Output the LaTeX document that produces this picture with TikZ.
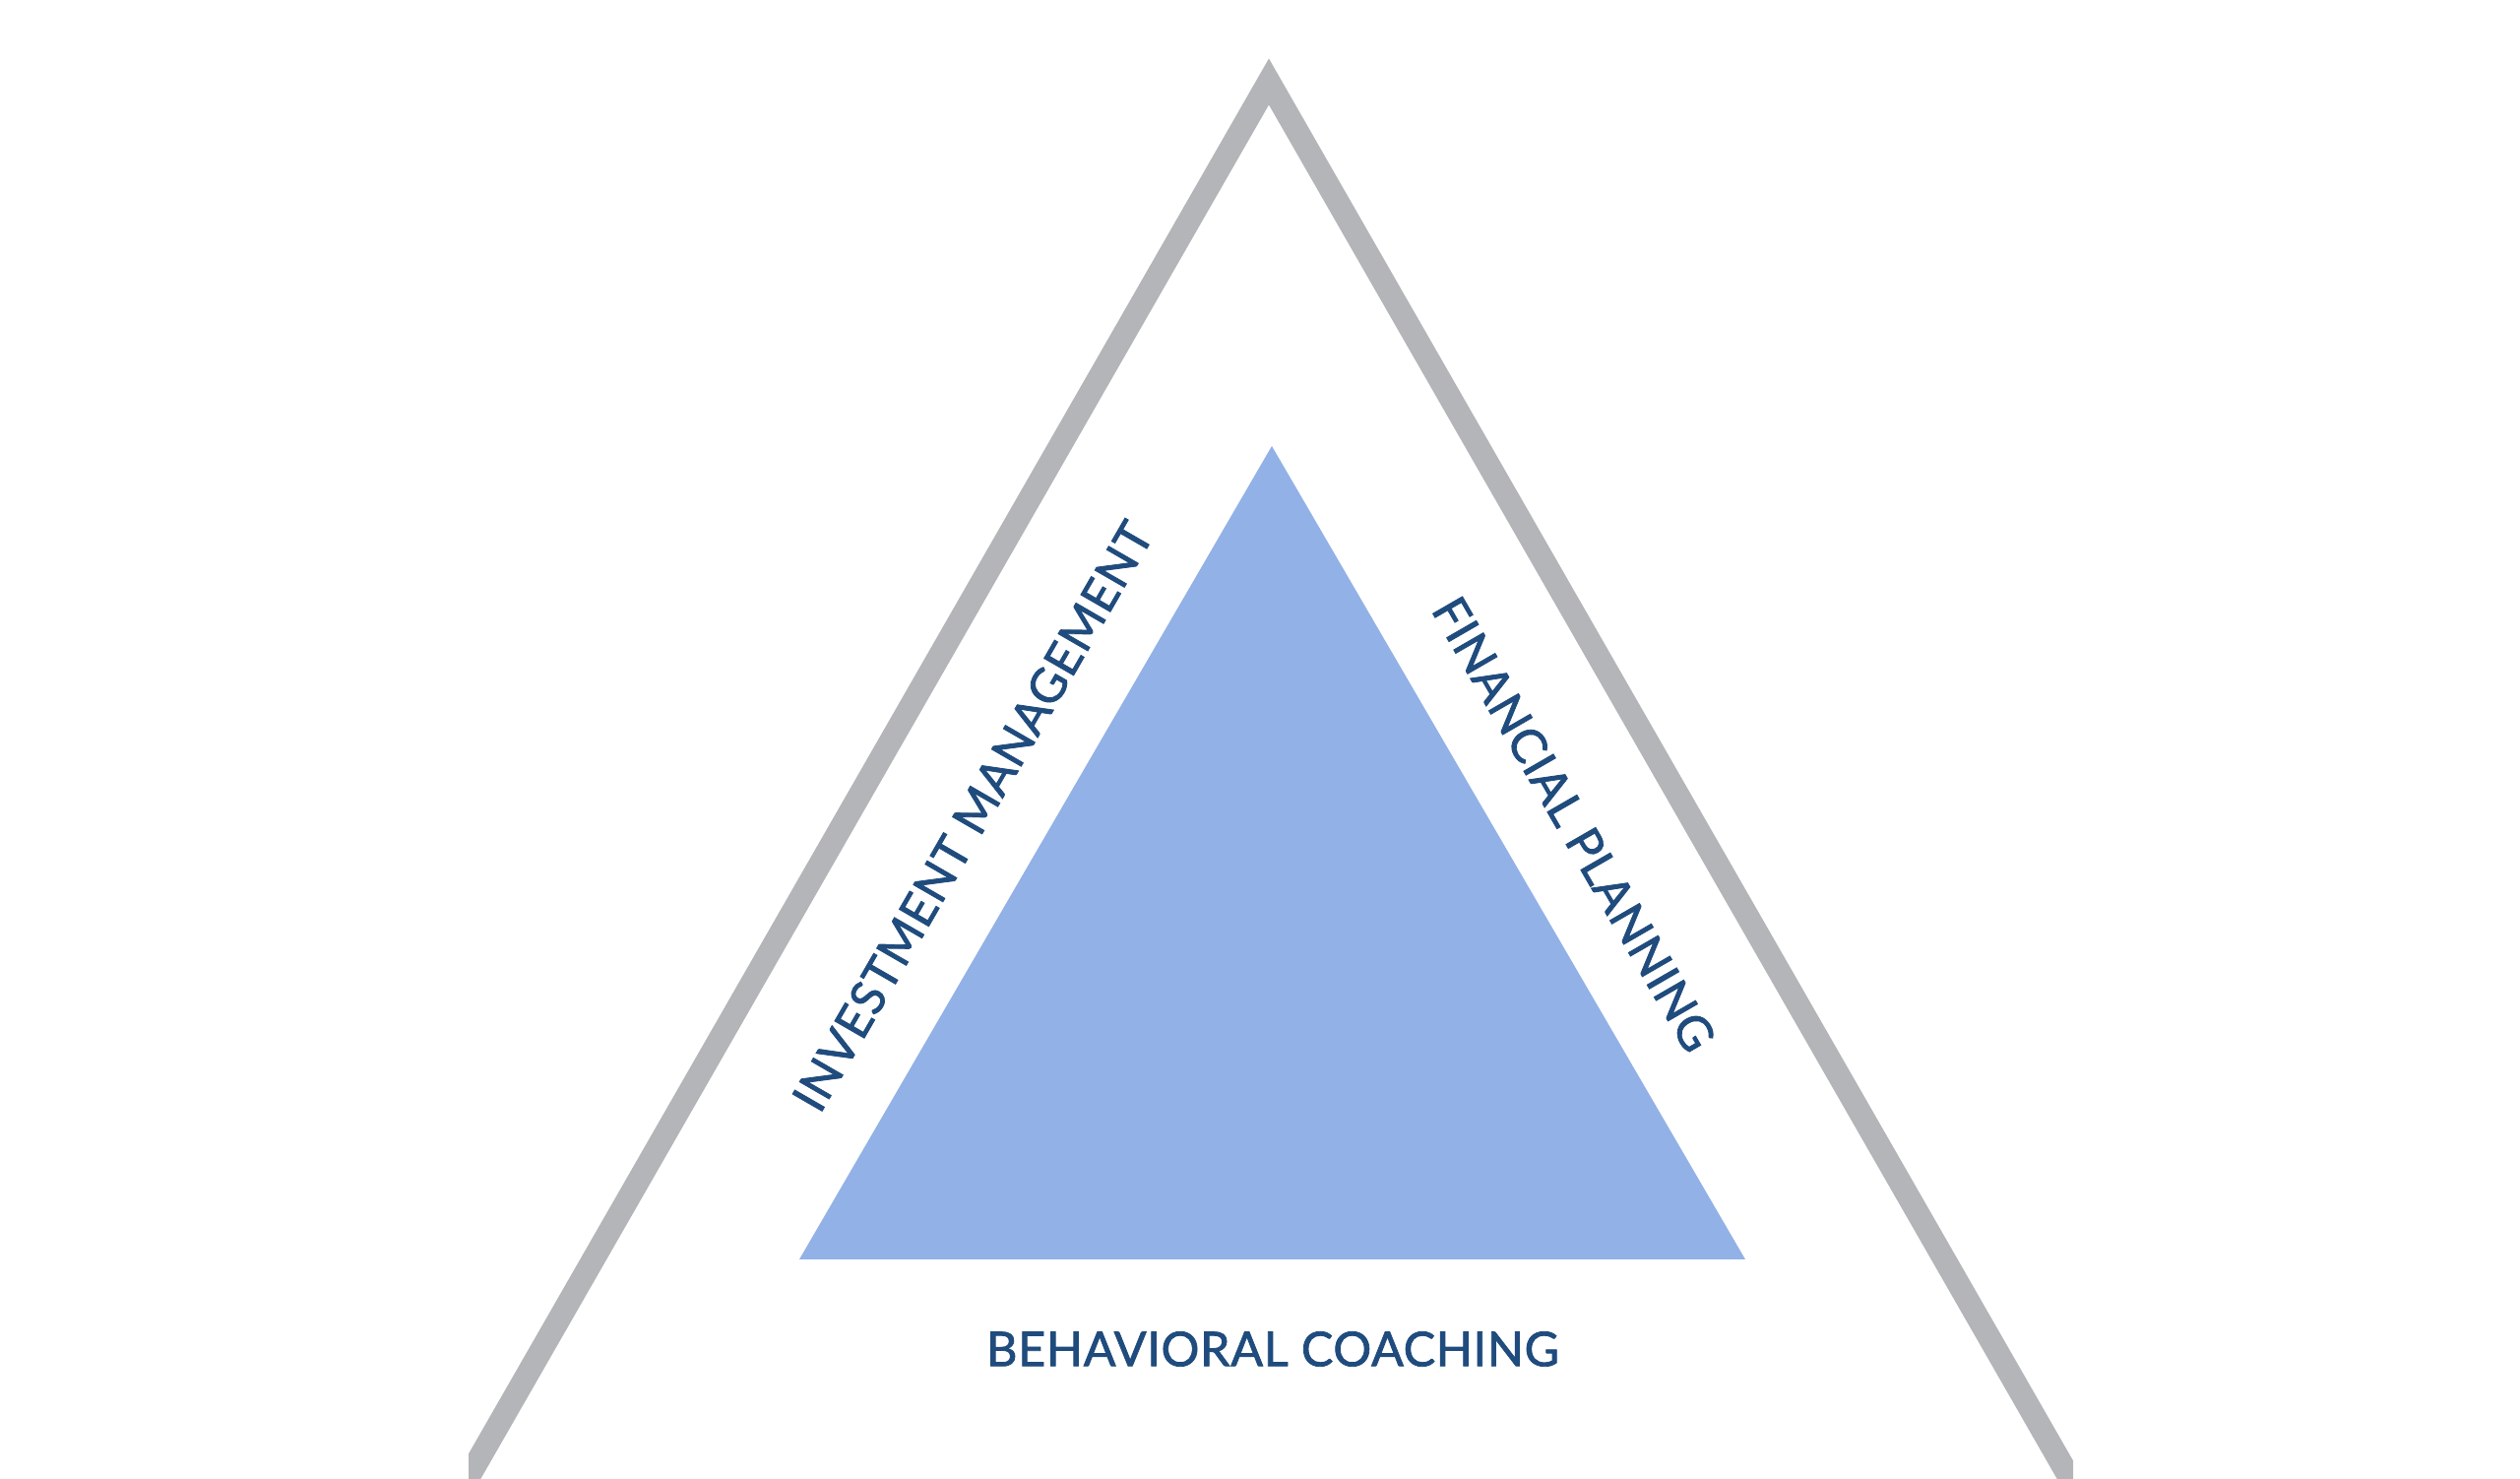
\documentclass[tikz,border=0pt]{standalone}
\usepackage{fontspec}
\newfontfamily\lblfont{Lato}[LetterSpace=1.5,FakeBold=1.6]
\definecolor{rimgray}{HTML}{B3B5B8}
\definecolor{coreblue}{HTML}{92B1E6}
\definecolor{lblblue}{HTML}{1F4B7D}
\usetikzlibrary{positioning}

\begin{document}
\begin{tikzpicture}[
  rim/.style={draw=rimgray, line width=2.34mm, line join=miter},
  core/.style={fill=coreblue},
  lbl/.style={text=lblblue, inner sep=0pt, font=\lblfont\fontsize{13.8pt}{15pt}\selectfont},
]
\useasboundingbox (0,0) rectangle (25.6,15.02);
% outer frame, cut off by the page at the bottom
\begin{scope}
  \clip (4.76,0) rectangle (21.06,15.02);
  \draw[rim] (4.53,-0.38) -- (12.89,14.19) -- (21.25,-0.38);
\end{scope}
% inner triangle
\path[core] (8.12,2.23) -- (12.92,10.49) -- (17.73,2.23) -- cycle;
\node[lbl,rotate=60]  (invest) at (9.88,6.73)  {INVESTMENT MANAGEMENT};
\node[lbl,rotate=-60] (plan)   at (15.99,6.65) {FINANCIAL PLANNING};
\node[lbl]            (coach)  at (12.93,1.32) {BEHAVIORAL COACHING};
\end{tikzpicture}
\end{document}
